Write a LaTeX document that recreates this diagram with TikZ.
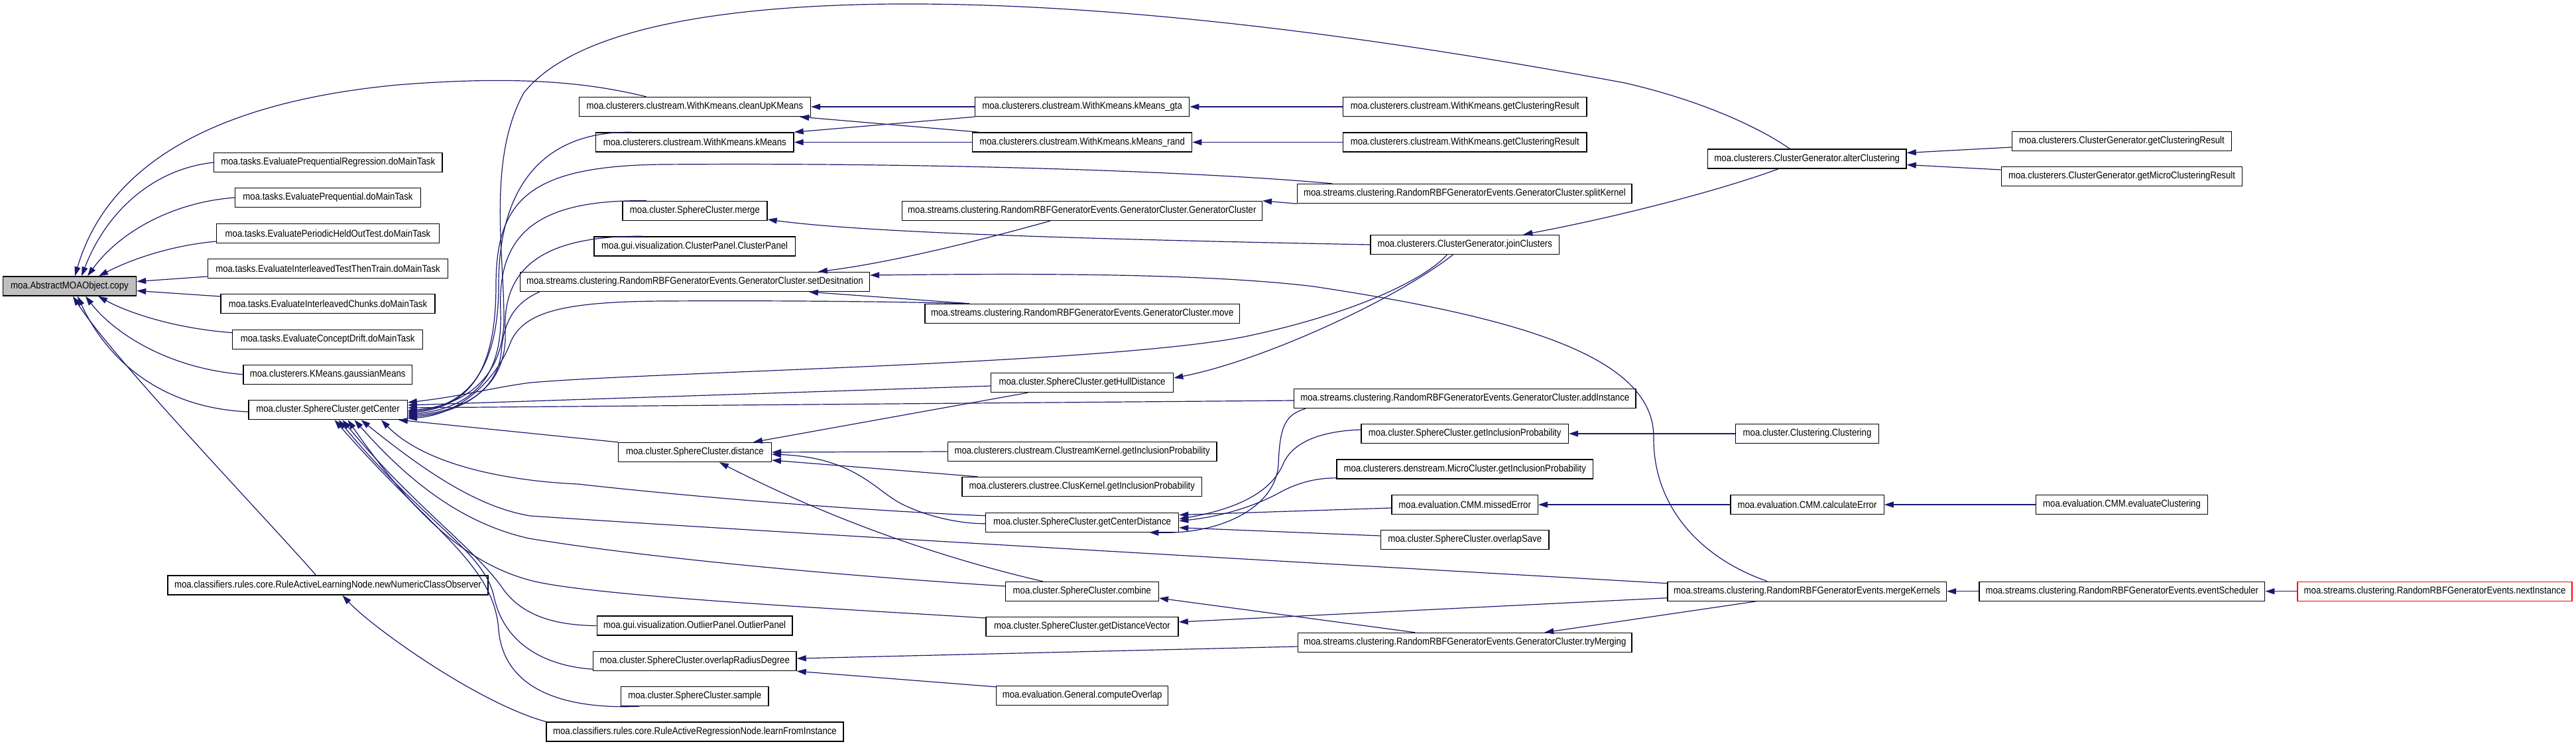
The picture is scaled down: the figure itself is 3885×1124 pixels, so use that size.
\documentclass[tikz,border=0pt]{standalone}
\usepackage{fontspec}
\newfontfamily\nf[FakeStretch=0.88]{Liberation Sans}
\usetikzlibrary{arrows.meta,calc}
\definecolor{edgec}{RGB}{25,25,112}
\definecolor{grayfill}{RGB}{191,191,191}
\begin{document}
\begin{tikzpicture}[x=0.5pt,y=-0.5pt,
  fn/.style={draw=black, fill=white, line width=0.7pt, minimum height=14.5pt, inner xsep=1pt, inner ysep=0pt, font=\nf\fontsize{7.5}{9}\selectfont},
  e/.style={draw=edgec, line width=0.6pt, {Triangle[length=7pt,width=4.5pt]}-}]
\useasboundingbox (0,0) rectangle (3885,1124);
% column 1
\node[fn, fill=grayfill, minimum width=100.5pt] (copy) at (105,431.5) {moa.AbstractMOAObject.copy};
\node[fn, minimum width=172.2pt] (EPR) at (494.8,245) {moa.tasks.EvaluatePrequentialRegression.doMainTask};
\node[fn, minimum width=139.8pt] (EP) at (494.5,298) {moa.tasks.EvaluatePrequential.doMainTask};
\node[fn, minimum width=167.9pt] (EPHOT) at (494.5,352) {moa.tasks.EvaluatePeriodicHeldOutTest.doMainTask};
\node[fn, minimum width=181.1pt] (EITTT) at (494.5,405) {moa.tasks.EvaluateInterleavedTestThenTrain.doMainTask};
\node[fn, minimum width=161.5pt] (EIC) at (494.5,458) {moa.tasks.EvaluateInterleavedChunks.doMainTask};
\node[fn, minimum width=143.5pt] (ECD) at (494.2,511.7) {moa.tasks.EvaluateConceptDrift.doMainTask};
\node[fn, minimum width=127.4pt] (gM) at (494.2,564.7) {moa.clusterers.KMeans.gaussianMeans};
\node[fn, minimum width=119.7pt] (getCenter) at (494.5,618) {moa.cluster.SphereCluster.getCenter};
\node[fn, minimum width=241.5pt] (newNumeric) at (494.5,882.5) {moa.classifiers.rules.core.RuleActiveLearningNode.newNumericClassObserver};
% column 2
\node[fn, minimum width=174.5pt] (cleanUpKMeans) at (1047.9,161) {moa.clusterers.clustream.WithKmeans.cleanUpKMeans};
\node[fn, minimum width=149.2pt] (kMeans) at (1047.8,214.5) {moa.clusterers.clustream.WithKmeans.kMeans};
\node[fn, minimum width=109.1pt] (merge) at (1047.9,318) {moa.cluster.SphereCluster.merge};
\node[fn, minimum width=151.7pt] (ClusterPanel) at (1047.7,371.5) {moa.gui.visualization.ClusterPanel.ClusterPanel};
\node[fn, minimum width=263.5pt] (setDesitnation) at (1047.9,425) {moa.streams.clustering.RandomRBFGeneratorEvents.GeneratorCluster.setDesitnation};
\node[fn, minimum width=115.4pt] (distance) at (1047.9,682) {moa.cluster.SphereCluster.distance};
\node[fn, minimum width=147.3pt] (OutlierPanel) at (1047.6,943.6) {moa.gui.visualization.OutlierPanel.OutlierPanel};
\node[fn, minimum width=153.2pt] (overlapRadiusDegree) at (1047.8,997) {moa.cluster.SphereCluster.overlapRadiusDegree};
\node[fn, minimum width=111.3pt] (sample) at (1047.8,1050) {moa.cluster.SphereCluster.sample};
\node[fn, minimum width=224pt] (learnFromInstance) at (1048,1103.5) {moa.classifiers.rules.core.RuleActiveRegressionNode.learnFromInstance};
% column 3
\node[fn, minimum width=161.6pt] (kMeansgta) at (1632.1,161) {moa.clusterers.clustream.WithKmeans.kMeans\_gta};
\node[fn, minimum width=165.6pt] (kMeansrand) at (1632.1,214.5) {moa.clusterers.clustream.WithKmeans.kMeans\_rand};
\node[fn, minimum width=271.5pt] (GeneratorCluster) at (1631.8,318) {moa.streams.clustering.RandomRBFGeneratorEvents.GeneratorCluster.GeneratorCluster};
\node[fn, minimum width=237.4pt] (move) at (1632.2,473) {moa.streams.clustering.RandomRBFGeneratorEvents.GeneratorCluster.move};
\node[fn, minimum width=137.5pt] (getHullDistance) at (1632.1,577) {moa.cluster.SphereCluster.getHullDistance};
\node[fn, minimum width=202.9pt] (ClustreamKernel) at (1632.1,681) {moa.clusterers.clustream.ClustreamKernel.getInclusionProbability};
\node[fn, minimum width=180.8pt] (ClusKernel) at (1631.8,734) {moa.clusterers.clustree.ClusKernel.getInclusionProbability};
\node[fn, minimum width=145.5pt] (getCenterDistance) at (1632.1,787.7) {moa.cluster.SphereCluster.getCenterDistance};
\node[fn, minimum width=115.4pt] (combine) at (1631.9,892) {moa.cluster.SphereCluster.combine};
\node[fn, minimum width=145pt] (getDistanceVector) at (1632,945) {moa.cluster.SphereCluster.getDistanceVector};
\node[fn, minimum width=129.5pt] (computeOverlap) at (1632.2,1049) {moa.evaluation.General.computeOverlap};
% column 4
\node[fn, minimum width=183.7pt] (wkgcrA) at (2209.3,161) {moa.clusterers.clustream.WithKmeans.getClusteringResult};
\node[fn, minimum width=183.7pt] (wkgcrB) at (2209.3,214.5) {moa.clusterers.clustream.WithKmeans.getClusteringResult};
\node[fn, minimum width=252.2pt] (splitKernel) at (2208.9,292) {moa.streams.clustering.RandomRBFGeneratorEvents.GeneratorCluster.splitKernel};
\node[fn, minimum width=142.3pt] (joinClusters) at (2209.3,369) {moa.clusterers.ClusterGenerator.joinClusters};
\node[fn, minimum width=257.7pt] (addInstance) at (2209.3,601) {moa.streams.clustering.RandomRBFGeneratorEvents.GeneratorCluster.addInstance};
\node[fn, minimum width=156.2pt] (scgip) at (2209.2,654) {moa.cluster.SphereCluster.getInclusionProbability};
\node[fn, minimum width=193.4pt] (microcluster) at (2209.2,707.6) {moa.clusterers.denstream.MicroCluster.getInclusionProbability};
\node[fn, minimum width=110.2pt] (missedError) at (2209.2,761) {moa.evaluation.CMM.missedError};
\node[fn, minimum width=126.8pt] (overlapSave) at (2209.2,814) {moa.cluster.SphereCluster.overlapSave};
\node[fn, minimum width=251.9pt] (tryMerging) at (2209.2,969) {moa.streams.clustering.RandomRBFGeneratorEvents.GeneratorCluster.tryMerging};
% column 5
\node[fn, minimum width=149.8pt] (alterClustering) at (2725.2,239.5) {moa.clusterers.ClusterGenerator.alterClustering};
\node[fn, minimum width=108.2pt] (Clustering) at (2725.5,654) {moa.cluster.Clustering.Clustering};
\node[fn, minimum width=115.7pt] (calculateError) at (2725.5,761) {moa.evaluation.CMM.calculateError};
\node[fn, minimum width=210.2pt] (mergeKernels) at (2725.2,891.7) {moa.streams.clustering.RandomRBFGeneratorEvents.mergeKernels};
% column 6
\node[fn, minimum width=165.6pt] (cggcr) at (3200,213) {moa.clusterers.ClusterGenerator.getClusteringResult};
\node[fn, minimum width=181.7pt] (getmicro) at (3200,266) {moa.clusterers.ClusterGenerator.getMicroClusteringResult};
\node[fn, minimum width=129.5pt] (evaluateClustering) at (3200,761) {moa.evaluation.CMM.evaluateClustering};
\node[fn, minimum width=215.3pt] (eventScheduler) at (3200.3,891.7) {moa.streams.clustering.RandomRBFGeneratorEvents.eventScheduler};
% column 7
\node[fn, draw=red, minimum width=207pt] (nextInstance) at (3672,891.7) {moa.streams.clustering.RandomRBFGeneratorEvents.nextInstance};

% ---- edges into copy
\draw[e] ($(copy.north)+(8,0)$) .. controls (150,290) and (260,160) .. (600,128) .. controls (800,112) and (900,128) .. ($(cleanUpKMeans.north west)+(102,0)$);
\draw[e] ($(copy.north)+(18,0)$) .. controls (160,320) and (230,255) .. (EPR.west);
\draw[e] ($(copy.north)+(27,0)$) .. controls (180,350) and (260,305) .. (EP.west);
\draw[e] ($(copy.north)+(44,0)$) .. controls (200,390) and (260,370) .. ($(EPHOT.west)+(0,12)$);
\draw[e] ($(copy.east)+(0,-7)$) -- ($(EITTT.west)+(0,12)$);
\draw[e] ($(copy.east)+(0,7)$) -- ($(EIC.west)+(0,-11)$);
\draw[e] ($(copy.south)+(43,0)$) .. controls (190,470) and (260,495) .. ($(ECD.west)+(0,-10)$);
\draw[e] ($(copy.south)+(24,0)$) .. controls (170,500) and (250,555) .. (gM.west);
\draw[e] ($(copy.south)+(12,0)$) .. controls (160,540) and (240,615) .. ($(getCenter.west)+(0,3)$);
\draw[e] ($(copy.south)+(5,0)$) .. controls (170,540) and (400,780) .. ($(newNumeric.north)+(-18,0)$);

% ---- edges into getCenter (right side)
\draw[e] ($(getCenter.east)+(0,-11)$) .. controls (700,597) and (740,585) .. (800,577) .. controls (1000,560) and (1700,548) .. (1890,505) .. controls (2050,470) and (2150,420) .. ($(joinClusters.south)+(-27,0)$);
\draw[e] ($(getCenter.east)+(0,-7)$) -- ($(getHullDistance.west)+(0,5)$);
\draw[e] ($(getCenter.east)+(0,-3)$) -- ($(addInstance.west)+(0,3)$);
\draw[e] ($(getCenter.east)+(0,1)$) .. controls (700,612) and (760,570) .. (760,480) .. controls (760,380) and (735,240) .. (790,140) .. controls (870,40) and (1100,8) .. (1350,6) .. controls (1700,4) and (2100,60) .. (2450,125) .. controls (2560,150) and (2650,190) .. ($(alterClustering.north)+(-26,0)$);
\draw[e] ($(getCenter.east)+(0,3)$) .. controls (710,612) and (752,550) .. (752,430) .. controls (752,280) and (820,198) .. ($(kMeans.north west)+(54,0)$);
\draw[e] ($(getCenter.east)+(0,5)$) .. controls (715,612) and (748,550) .. (748,430) .. controls (748,300) and (800,250) .. (1000,248) .. controls (1400,245) and (1800,258) .. ($(splitKernel.north west)+(53,0)$);
\draw[e] ($(getCenter.east)+(0,7)$) .. controls (720,615) and (758,560) .. (755,470) .. controls (750,360) and (800,300) .. ($(merge.north west)+(37,0)$);
\draw[e] ($(getCenter.east)+(0,9)$) .. controls (720,618) and (765,570) .. (762,500) .. controls (758,410) and (810,355) .. ($(ClusterPanel.north west)+(74,0)$);
\draw[e] ($(getCenter.east)+(0,11)$) .. controls (700,622) and (752,585) .. (756,530) .. controls (760,480) and (780,455) .. ($(setDesitnation.south west)+(30,0)$);
\draw[e] ($(getCenter.east)+(0,13)$) .. controls (700,625) and (752,565) .. (770,516) .. controls (790,470) and (850,455) .. (1000,454) .. controls (1200,453) and (1350,455) .. ($(move.north west)+(68,0)$);
% ---- edges into getCenter (bottom)
\draw[e] ($(getCenter.south east)+(-14,0)$) -- (distance.north west);
\draw[e] ($(getCenter.south east)+(-40,0)$) .. controls (640,700) and (760,725) .. (872,730) .. controls (1050,750) and (1300,770) .. ($(getCenterDistance.west)+(0,-10)$);
\draw[e] ($(getCenter.south)+(50,0)$) .. controls (640,710) and (720,765) .. (800,778) .. controls (1200,805) and (2000,850) .. ($(mergeKernels.west)+(0,-12)$);
\draw[e] ($(getCenter.south)+(40,0)$) .. controls (620,730) and (700,790) .. (798,812) .. controls (1000,845) and (1300,870) .. ($(combine.west)+(0,-8)$);
\draw[e] ($(getCenter.south)+(30,0)$) .. controls (620,770) and (700,850) .. (803,876) .. controls (900,900) and (1300,920) .. ($(getDistanceVector.west)+(0,-13)$);
\draw[e] ($(getCenter.south)+(22,0)$) .. controls (620,760) and (720,830) .. (760,890) .. controls (790,930) and (840,943) .. (OutlierPanel.west);
\draw[e] ($(getCenter.south)+(16,0)$) .. controls (640,790) and (730,830) .. (745,900) .. controls (760,970) and (820,1004) .. ($(overlapRadiusDegree.south west)+(0,-3)$);
\draw[e] ($(getCenter.south)+(10,0)$) .. controls (650,800) and (745,850) .. (752,950) .. controls (760,1040) and (850,1070) .. ($(sample.south west)+(28,0)$);

% ---- other edges
\draw[e] (cleanUpKMeans.east) -- (kMeansgta.west);
\draw[e] ($(cleanUpKMeans.south east)+(-17,0)$) -- ($(kMeansrand.north west)+(11,0)$);
\draw[e] (kMeans.north east) -- (kMeansgta.south west);
\draw[e] (kMeans.east) -- (kMeansrand.west);
\draw[e] (kMeansgta.east) -- (wkgcrA.west);
\draw[e] (kMeansrand.east) -- (wkgcrB.west);
\draw[e] ($(merge.east)+(0,13)$) .. controls (1300,350) and (1600,360) .. (joinClusters.west);
\draw[e] (GeneratorCluster.north east) -- (splitKernel.south west);
\draw[e] ($(setDesitnation.north)+(186,0)$) .. controls (1350,395) and (1480,362) .. ($(GeneratorCluster.south)+(-48,0)$);
\draw[e] ($(setDesitnation.south)+(172,0)$) -- ($(move.north west)+(68,0)$);
\draw[e] ($(setDesitnation.east)+(0,-10)$) .. controls (1500,413) and (1800,410) .. (1981,432) .. controls (2300,480) and (2495,540) .. (2494,660) .. controls (2493,760) and (2560,840) .. ($(mergeKernels.north)+(-60,0)$);
\draw[e] ($(getHullDistance.east)+(0,-7)$) .. controls (1900,545) and (2100,455) .. ($(joinClusters.south)+(-18,0)$);
\draw[e] ($(joinClusters.north)+(88,0)$) .. controls (2450,325) and (2600,285) .. ($(alterClustering.south)+(-43,0)$);
\draw[e] ($(alterClustering.east)+(0,-9)$) -- ($(cggcr.west)+(0,9)$);
\draw[e] ($(alterClustering.east)+(0,9)$) -- ($(getmicro.west)+(0,-10)$);
\draw[e] (distance.east) -- (ClustreamKernel.west);
\draw[e] ($(distance.east)+(0,12)$) -- ($(ClusKernel.north west)+(24,0)$);
\draw[e] ($(distance.east)+(0,3)$) .. controls (1290,690) and (1320,740) .. (1360,760) .. controls (1400,780) and (1450,790) .. ($(getCenterDistance.west)+(0,2)$);
\draw[e] ($(distance.north)+(88,0)$) -- ($(getHullDistance.south)+(-82,0)$);
\draw[e] ($(distance.south)+(37,0)$) .. controls (1247,780) and (1410,839) .. ($(combine.north)+(-59,0)$);
\draw[e] ($(getCenterDistance.south east)+(-45,0)$) .. controls (1850,806) and (1925,760) .. (1928,700) .. controls (1930,640) and (1940,625) .. ($(addInstance.south west)+(18,0)$);
\draw[e] ($(getCenterDistance.east)+(0,-5)$) .. controls (1880,765) and (1920,735) .. (1935,700) .. controls (1950,665) and (1995,650) .. ($(scgip.west)+(0,-6)$);
\draw[e] ($(getCenterDistance.east)+(0,-2)$) .. controls (1850,778) and (1900,760) .. (1935,740) .. controls (1965,725) and (1990,721) .. ($(microcluster.south west)+(0,-2)$);
\draw[e] ($(getCenterDistance.north east)+(0,4)$) -- ($(missedError.west)+(0,5)$);
\draw[e] ($(getCenterDistance.east)+(0,8)$) -- ($(overlapSave.west)+(0,-6)$);
\draw[e] (scgip.east) -- (Clustering.west);
\draw[e] (missedError.east) -- (calculateError.west);
\draw[e] (calculateError.east) -- (evaluateClustering.west);
\draw[e] ($(combine.east)+(0,10)$) -- ($(tryMerging.north)+(-75,0)$);
\draw[e] ($(getDistanceVector.east)+(0,-7)$) -- ($(mergeKernels.west)+(0,10)$);
\draw[e] ($(tryMerging.north)+(120,0)$) -- ($(mergeKernels.south)+(-77,0)$);
\draw[e] ($(overlapRadiusDegree.east)+(0,-4)$) -- ($(tryMerging.west)+(0,6)$);
\draw[e] (overlapRadiusDegree.south east) -- ($(computeOverlap.north west)+(0,2)$);
\draw[e] (mergeKernels.east) -- (eventScheduler.west);
\draw[e] (eventScheduler.east) -- (nextInstance.west);
\draw[e] ($(newNumeric.south)+(22,0)$) .. controls (560,945) and (720,1060) .. (learnFromInstance.north west);
\end{tikzpicture}
\end{document}
